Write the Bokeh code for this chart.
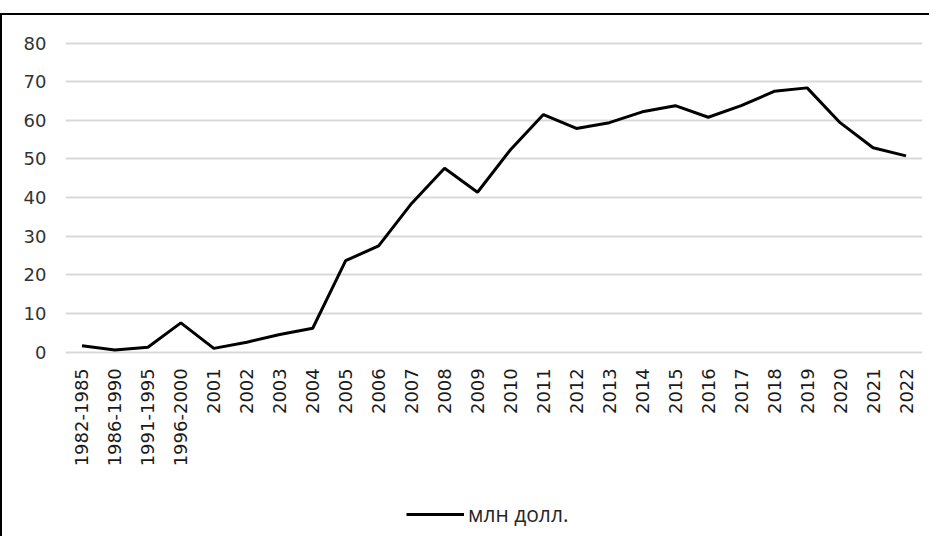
import math
from bokeh.plotting import figure
from bokeh.models import FactorRange, Range1d, FixedTicker, Legend, LegendItem, ColumnDataSource
from bokeh.embed import file_html
from bokeh.resources import INLINE

periods = ["1982-1985", "1986-1990", "1991-1995", "1996-2000",
           "2001", "2002", "2003", "2004", "2005", "2006", "2007", "2008",
           "2009", "2010", "2011", "2012", "2013", "2014", "2015", "2016",
           "2017", "2018", "2019", "2020", "2021", "2022"]
values = [1.7, 0.6, 1.3, 7.6, 1.0, 2.6, 4.6, 6.2, 23.7, 27.5, 38.5, 47.6,
          41.4, 52.4, 61.5, 57.9, 59.4, 62.2, 63.8, 60.8, 63.8, 67.5, 68.4,
          59.4, 52.9, 50.8]
y_ticks = [0, 10, 20, 30, 40, 50, 60, 70, 80]
series_label = "млн долл."

source = ColumnDataSource(data=dict(period=periods, value=values))

# the frame reaches down to the bottom of the canvas, so that the category
# labels and the legend (below the zero line) sit inside it
p = figure(x_range=FactorRange(*periods), y_range=Range1d(-48.2, 80.4),
           width=929, height=523, output_backend="svg", toolbar_location=None,
           min_border_left=63, min_border_right=9, min_border_top=26,
           min_border_bottom=0,
           styles={"border-left": "2px solid black", "border-top": "2px solid black",
                   "margin-top": "13px"})

r = p.line(x="period", y="value", source=source, line_color="black", line_width=3)

p.outline_line_color = None
p.xgrid.grid_line_color = None
p.ygrid.grid_line_color = "#d9d9d9"
p.ygrid.grid_line_width = 2

p.yaxis.ticker = FixedTicker(ticks=y_ticks)
p.yaxis.axis_line_color = None
p.yaxis.major_tick_line_color = None
p.yaxis.minor_tick_line_color = None
p.yaxis.major_tick_out = 0
p.yaxis.major_tick_in = 0
p.yaxis.major_label_standoff = 19
p.yaxis.major_label_text_font = "DejaVu Sans"
p.yaxis.major_label_text_font_size = "18px"
p.yaxis.major_label_text_color = "#333333"

p.xaxis.fixed_location = 0
p.xaxis.axis_line_color = None
p.xaxis.major_tick_line_color = None
p.xaxis.major_tick_out = 0
p.xaxis.major_tick_in = 0
p.xaxis.major_label_orientation = math.pi / 2
p.xaxis.major_label_standoff = 16
p.xaxis.major_label_text_font = "DejaVu Sans"
p.xaxis.major_label_text_font_size = "18px"
p.xaxis.major_label_text_color = "#1a1a1a"

legend = Legend(items=[LegendItem(label=series_label, renderers=[r])],
                location=(341, 10), orientation="horizontal",
                glyph_width=58, glyph_height=20, label_standoff=4,
                padding=0, margin=0, border_line_color=None,
                background_fill_alpha=0,
                label_text_font="Open Sans", label_text_font_size="21px",
                label_text_color="#262626")
p.add_layout(legend, "center")

open("out.html", "w").write(file_html(p, INLINE))
